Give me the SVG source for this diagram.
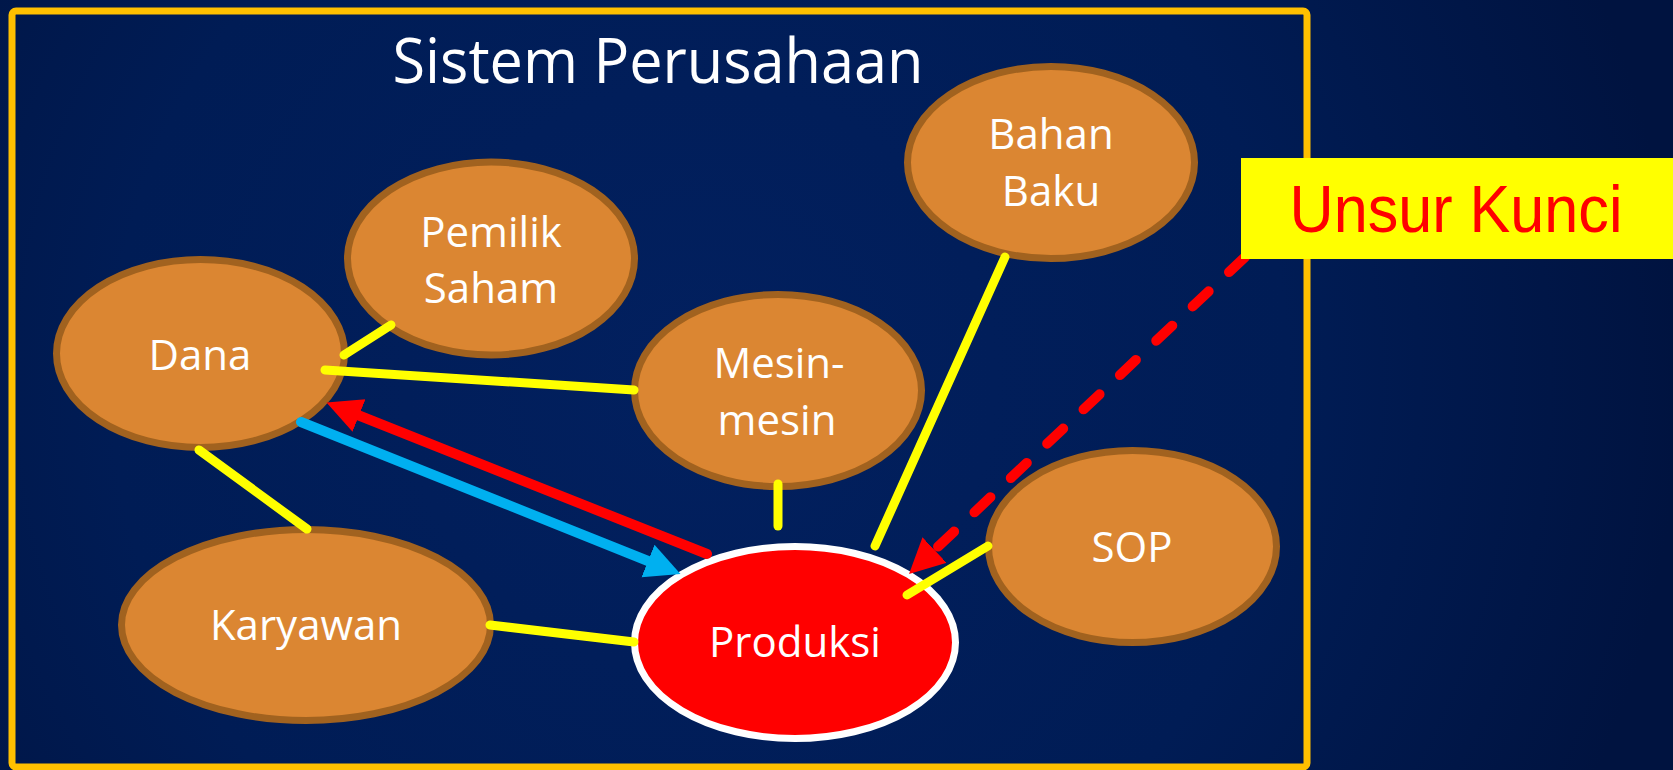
<svg xmlns="http://www.w3.org/2000/svg" width="1673" height="770" viewBox="0 0 1673 770">
<defs>
<radialGradient id="bg" cx="700" cy="380" r="980" gradientUnits="userSpaceOnUse">
<stop offset="0" stop-color="#02205F"/>
<stop offset="0.6" stop-color="#001C55"/>
<stop offset="1" stop-color="#001340"/>
</radialGradient>
<marker id="ahBlue" markerUnits="userSpaceOnUse" markerWidth="36" markerHeight="36" refX="0" refY="17.5" orient="auto" viewBox="0 0 36 36">
<path d="M0,0 L35,17.5 L0,35 Z" fill="#00B0F0"/>
</marker>
<marker id="ahRed" markerUnits="userSpaceOnUse" markerWidth="36" markerHeight="36" refX="0" refY="17.5" orient="auto" viewBox="0 0 36 36">
<path d="M0,0 L35,17.5 L0,35 Z" fill="#FF0000"/>
</marker>
<style>
.node{fill:#DB8632;stroke:#A1621F;stroke-width:7}
.lbl{font-family:"Open Sans","Liberation Sans",sans-serif;font-size:42px;fill:#FFFFFF;text-anchor:middle}
.yl{stroke:#FFFF00;stroke-width:9;stroke-linecap:round;fill:none}
</style>
</defs>
<rect x="0" y="0" width="1673" height="770" fill="url(#bg)"/>
<rect id="frame" x="12" y="11" width="1295" height="756" rx="4" fill="none" stroke="#FFC000" stroke-width="7"/>
<text id="title" x="658" y="83" font-family="'Open Sans','Liberation Sans',sans-serif" font-size="63" fill="#FFFFFF" text-anchor="middle" textLength="531" lengthAdjust="spacingAndGlyphs">Sistem Perusahaan</text>

<g id="node-pemilik">
<ellipse class="node" cx="491" cy="258.5" rx="143.5" ry="96.5"/>
<text class="lbl" x="491" y="247">Pemilik</text>
<text class="lbl" x="491" y="303">Saham</text>
</g>
<g id="node-dana">
<ellipse class="node" cx="200.5" cy="353.5" rx="144" ry="94"/>
<text class="lbl" x="200" y="370">Dana</text>
</g>
<g id="node-mesin">
<ellipse class="node" cx="778" cy="390.5" rx="143.5" ry="96"/>
<text class="lbl" x="779" y="378">Mesin-</text>
<text class="lbl" x="777" y="435">mesin</text>
</g>
<g id="node-bahan">
<ellipse class="node" cx="1051" cy="162.5" rx="143.5" ry="96"/>
<text class="lbl" x="1051" y="149">Bahan</text>
<text class="lbl" x="1051" y="206">Baku</text>
</g>
<g id="node-sop">
<ellipse class="node" cx="1132.5" cy="546.5" rx="144" ry="96"/>
<text class="lbl" x="1132" y="562">SOP</text>
</g>
<g id="node-karyawan">
<ellipse class="node" cx="306" cy="625" rx="184.5" ry="95.5"/>
<text class="lbl" x="306" y="640">Karyawan</text>
</g>
<g id="node-produksi">
<ellipse cx="795" cy="642.5" rx="160.5" ry="96" fill="#FF0000" stroke="#FFFFFF" stroke-width="7"/>
<text class="lbl" x="795" y="657">Produksi</text>
</g>

<g id="connectors">
<line class="yl" x1="344" y1="355" x2="391" y2="325"/>
<line class="yl" x1="325" y1="370" x2="634" y2="390"/>
<line class="yl" x1="199" y1="450" x2="307" y2="529"/>
<line class="yl" x1="490" y1="625" x2="634" y2="642"/>
<line class="yl" x1="778" y1="484" x2="778" y2="526"/>
<line class="yl" x1="1005" y1="257" x2="875" y2="546"/>
<line class="yl" x1="988" y1="546" x2="907" y2="595"/>
<line x1="301" y1="422" x2="648" y2="561" stroke="#00B0F0" stroke-width="10" stroke-linecap="round" marker-end="url(#ahBlue)"/>
<line x1="707" y1="554" x2="359" y2="415.5" stroke="#FF0000" stroke-width="10" stroke-linecap="round" marker-end="url(#ahRed)"/>
<line x1="1245" y1="257" x2="934.5" y2="550" stroke="#FF0000" stroke-width="10" stroke-linecap="round" stroke-dasharray="22 28" marker-end="url(#ahRed)"/>
</g>

<g id="node-unsur">
<rect x="1241" y="158" width="432" height="101" fill="#FFFF00"/>
<text x="1456" y="232" font-family="'Liberation Sans',sans-serif" font-size="67" fill="#FF0000" text-anchor="middle" textLength="333" lengthAdjust="spacingAndGlyphs">Unsur Kunci</text>
</g>
</svg>
